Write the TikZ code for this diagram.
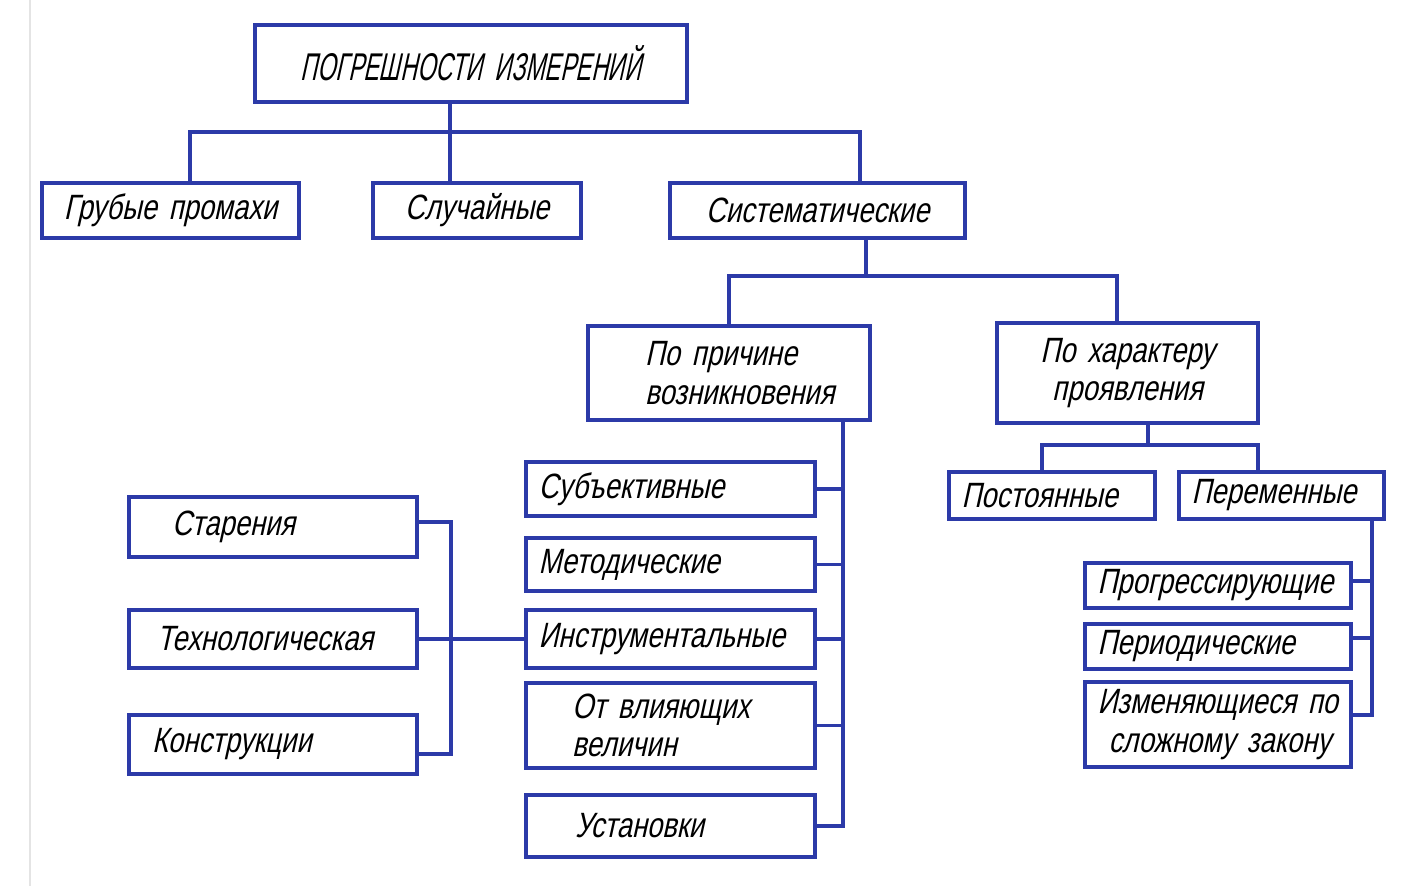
\documentclass[tikz,border=0pt]{standalone}
\usepackage{fontspec}
\newfontfamily\gostfont[FakeStretch=0.78,FakeSlant=0.22]{Liberation Sans}
\newfontfamily\gostcaps[FakeStretch=0.6,FakeSlant=0.22]{Liberation Sans}
\usetikzlibrary{positioning}
\definecolor{lineblue}{RGB}{44,58,168}
\definecolor{framegray}{RGB}{228,228,228}

\begin{document}
\begin{tikzpicture}[
    box/.style={draw=lineblue, line width=2pt, inner xsep=0.25cm, inner ysep=0pt, align=left, font=\gostfont\fontsize{20}{22}\selectfont},
    link/.style={draw=lineblue, line width=2pt}]
    \useasboundingbox (0,0) rectangle (28.04,-17.72);
    \draw[framegray, line width=1pt] (0.6,0) -- (0.6,-17.72);

    % Top level
    \node[box, text width=8.14cm, minimum height=1.54cm, align=center, font=\gostcaps\fontsize{22}{24}\selectfont] (root) at (9.42,-1.27) {ПОГРЕШНОСТИ ИЗМЕРЕНИЙ};
    \node[box, text width=4.64cm, minimum height=1.1cm, align=center] (grub) at (3.41,-4.21) {Грубые промахи};
    \node[box, text width=3.66cm, minimum height=1.1cm, align=center] (sluch) at (9.54,-4.21) {Случайные};
    \node[box, text width=5.4cm, minimum height=1.1cm, align=center] (sist) at (16.35,-4.21) {Систематические};

    % Systematic split
    \node[box, text width=5.14cm, minimum height=1.88cm] (prich) at (14.58,-7.46) {\hspace*{0.89cm}По причине\\\hspace*{0.89cm}возникновения};
    \node[box, text width=4.72cm, minimum height=2.0cm, align=center] (har) at (22.55,-7.46) {По характеру\\проявления};

    % By cause
    \node[box, text width=5.28cm, minimum height=1.08cm] (subj) at (13.41,-9.78) {Субъективные};
    \node[box, text width=5.28cm, minimum height=1.06cm] (metod) at (13.41,-11.29) {Методические};
    \node[box, text width=5.28cm, minimum height=1.16cm] (instr) at (13.41,-12.78) {Инструментальные};
    \node[box, text width=5.28cm, minimum height=1.7cm] (vliya) at (13.41,-14.51) {\hspace*{0.67cm}От влияющих\\\hspace*{0.67cm}величин};
    \node[box, text width=5.28cm, minimum height=1.24cm] (ust) at (13.41,-16.52) {\hspace*{0.73cm}Установки};

    % Instrumental
    \node[box, text width=5.26cm, minimum height=1.2cm] (star) at (5.46,-10.54) {\hspace*{0.61cm}Старения};
    \node[box, text width=5.26cm, minimum height=1.16cm] (tech) at (5.46,-12.78) {\hspace*{0.31cm}Технологическая};
    \node[box, text width=5.26cm, minimum height=1.18cm] (konstr) at (5.46,-14.89) {\hspace*{0.21cm}Конструкции};

    % By behaviour
    \node[box, text width=3.62cm, minimum height=0.94cm] (post) at (21.04,-9.91) {Постоянные};
    \node[box, text width=3.6cm, minimum height=0.94cm] (per) at (25.63,-9.91) {Переменные};
    \node[box, text width=4.82cm, minimum height=0.9cm] (progr) at (24.36,-11.71) {Прогрессирующие};
    \node[box, text width=4.82cm, minimum height=0.9cm] (period) at (24.36,-12.93) {Периодические};
    \node[box, text width=4.82cm, minimum height=1.7cm] (izm) at (24.36,-14.49) {\mbox{Изменяющиеся по}\\\hspace*{0.22cm}\mbox{сложному закону}};

    % Links
    \coordinate (b1) at (9.0,-2.64);
    \coordinate (sistin) at ([xshift=0.85cm]sist.north);
    \draw[link] (root.south -| b1) -- (sluch.north -| b1);
    \draw[link] ([xshift=0.39cm]grub.north) |- (sistin |- b1) -- (sistin);

    \coordinate (sistout) at ([xshift=0.97cm]sist.south);
    \coordinate (harin) at ([xshift=-0.21cm]har.north);
    \draw[link] (sistout) -- ++(0,-0.72) coordinate (b2);
    \draw[link] (prich.north) |- (harin |- b2) -- (harin);

    \coordinate (sp) at ([xshift=2.28cm]prich.south);
    \draw[link] (sp) |- (ust.east);
    \foreach \n in {subj,metod,instr,vliya}
        \draw[link] (\n.east) -- (\n.east -| sp);

    \coordinate (lsp) at (9.02,-12.78);
    \draw[link] ([yshift=0.1cm]star.east) -| (lsp) |- ([yshift=-0.19cm]konstr.east);
    \draw[link] (tech.east) -- (instr.west);

    \coordinate (harout) at ([xshift=0.41cm]har.south);
    \draw[link] (harout) -- ++(0,-0.4) coordinate (b3);
    \draw[link] ([xshift=-0.2cm]post.north) |- (b3) -| ([xshift=-0.47cm]per.north);

    \coordinate (rsp) at ([xshift=1.81cm]per.south);
    \draw[link] (rsp) |- ([yshift=0.19cm]izm.east);
    \coordinate (pg) at ([yshift=0.09cm]progr.east);
    \coordinate (pd) at ([yshift=0.17cm]period.east);
    \draw[link] (pg) -- (pg -| rsp);
    \draw[link] (pd) -- (pd -| rsp);
\end{tikzpicture}
\end{document}
